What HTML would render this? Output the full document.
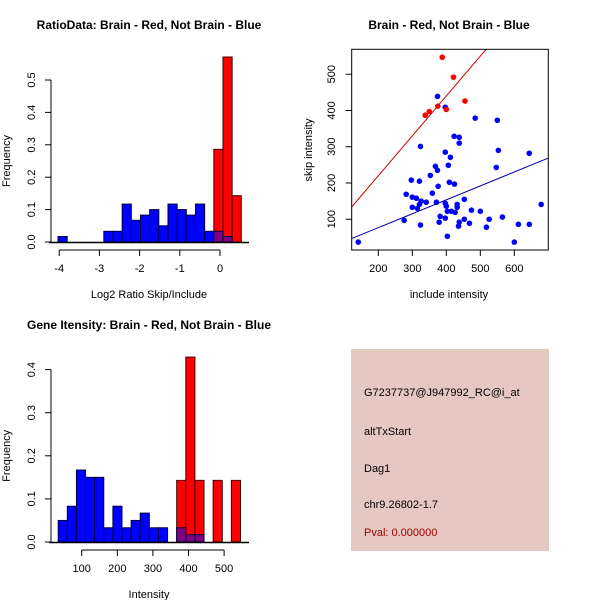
<!DOCTYPE html>
<html><head><meta charset="utf-8"><style>
html,body{margin:0;padding:0;background:#fff}
svg{display:block;font-family:"Liberation Sans",sans-serif}
</style></head><body>
<svg id="s" width="600" height="600" viewBox="0 0 600 600" xmlns="http://www.w3.org/2000/svg">
<rect x="0" y="0" width="600" height="600" fill="#fff"/>
<g>
<rect x="351" y="349" width="198" height="202" fill="#E5C8C2"/>
<text x="364" y="396" font-size="11">G7237737@J947992_RC@i_at</text>
<text x="364" y="435" font-size="11">altTxStart</text>
<text x="364" y="472" font-size="11">Dag1</text>
<text x="364" y="508" font-size="11">chr9.26802-1.7</text>
<text x="364" y="536" font-size="11" fill="#A00000">Pval: 0.000000</text>
</g>
</svg>
<script>
// Panel 1 data
const ratioBinStart=-4.03, ratioBinWidth=0.228;
const ratioBlue=[0.017,0,0,0,0,0.033,0.033,0.117,0.067,0.083,0.1,0.05,0.117,0.1,0.083,0.117,0.033,0.033,0.017,0];
const ratioRed=[0,0,0,0,0,0,0,0,0,0,0,0,0,0,0,0,0,0.286,0.571,0.143];
const ratioXTicks=[-4,-3,-2,-1,0];
const ratioYTicks=[0,0.1,0.2,0.3,0.4,0.5];
// Panel 3 data
const intBinStart=34, intBinWidth=25.6;
const intBlue=[0.05,0.083,0.167,0.15,0.15,0.033,0.083,0.033,0.05,0.067,0.033,0.033,0,0.033,0.017,0.017,0,0,0,0];
const intRed=[0,0,0,0,0,0,0,0,0,0,0,0,0,0.143,0.429,0.143,0,0.143,0,0.143];
const intXTicks=[100,200,300,400,500];
const intYTicks=[0,0.1,0.2,0.3,0.4];
// Panel 2 data
const redX=[388,421,455,375,350,338,400];
const redY=[547,492,426,412,397,387,403];
const blueX=[141,374,397,485,550,423,438,438,324,553,644,397,412,368,374,406,547,353,297,321,409,424,376,359,282,300,312,453,326,341,371,397,432,321,400,300,315,432,403,415,426,474,500,382,276,397,453,526,565,438,379,324,436,468,518,612,644,403,600,679];
const blueY=[37,439,409,379,373,329,326,310,301,290,282,285,271,246,235,249,243,221,208,205,202,197,191,172,169,161,158,155,150,147,147,144,141,141,136,133,130,133,122,122,119,125,122,108,97,103,100,100,106,92,92,84,81,89,78,86,86,53,37,141];
const redSlope=1.1, blueSlope=0.384;
const scXTicks=[200,300,400,500,600];
const scYTicks=[100,200,300,400,500];

const svg=document.getElementById('s');
const NS='http://www.w3.org/2000/svg';
function mk(tag,attrs,parent){const e=document.createElementNS(NS,tag);for(const k in attrs)e.setAttribute(k,attrs[k]);(parent||svg).appendChild(e);return e;}
function txt(x,y,s,size,parent,extra){const t=mk('text',Object.assign({x:x,y:y,'font-size':size,'text-anchor':'middle'},extra||{}),parent);t.textContent=s;return t;}

function hist(cfg){
  const g=mk('g',{});
  
  
  const X=v=>cfg.x0px+(v-cfg.x0)*cfg.xs, Y=v=>cfg.y0px-v*cfg.ys;
  const t=txt(cfg.titleX,cfg.titleY,cfg.title,12,g,{'font-weight':'bold'});
  
  cfg.red.forEach((v,i)=>{ if(v<=0)return;
    const a=cfg.bs+i*cfg.bw,b=a+cfg.bw;
    const r=mk('rect',{x:X(a),y:Y(v),width:X(b)-X(a),height:Y(0)-Y(v),fill:'#FF0000',stroke:'#400000','stroke-width':1},g);
    });
  cfg.blue.forEach((v,i)=>{ if(v<=0)return;
    const a=cfg.bs+i*cfg.bw,b=a+cfg.bw;
    const r=mk('rect',{x:X(a),y:Y(v),width:X(b)-X(a),height:Y(0)-Y(v),fill:cfg.red[i]>0?'#7F0080':'#0000FF',stroke:'#000040','stroke-width':1},g);
    });
  mk('line',{x1:X(cfg.bs)-9,x2:249,y1:Y(0)+0.5,y2:Y(0)+0.5,stroke:'#000','stroke-width':1.5},g);
  const ya=mk('g',{},g);
  const yt=cfg.yticks;
  mk('line',{x1:51,x2:51,y1:Y(yt[0]),y2:Y(yt[yt.length-1]),stroke:'#000'},ya);
  yt.forEach(v=>{mk('line',{x1:45,x2:51,y1:Y(v),y2:Y(v),stroke:'#000'},ya);
    txt(0,0,v.toFixed(1),11,ya,{transform:`translate(${35},${Y(v)}) rotate(-90)`});});
  const xa=mk('g',{},g);
  const xt=cfg.xticks, ay=cfg.y0px+8;
  mk('line',{x1:X(xt[0]),x2:X(xt[xt.length-1]),y1:ay,y2:ay,stroke:'#000'},xa);
  xt.forEach(v=>{mk('line',{x1:X(v),x2:X(v),y1:ay,y2:ay+6,stroke:'#000'},xa);
    txt(X(v),ay+22,String(v),11,xa);});
  const xl=txt(149,cfg.xlabY,cfg.xlab,11,g);
  const yl=txt(0,0,'Frequency',11,g,{transform:`translate(10,${(Y(0)+Y(yt[yt.length-1]))/2}) rotate(-90)`});
  
}
hist({name:'ratio-histogram',title:'RatioData: Brain - Red, Not Brain - Blue',titleX:149,titleY:29,
  x0:0,x0px:220,xs:40.2,y0px:242,ys:324,bs:ratioBinStart,bw:ratioBinWidth,blue:ratioBlue,red:ratioRed,
  xticks:ratioXTicks,yticks:ratioYTicks,xlab:'Log2 Ratio Skip/Include',xlabY:298});
hist({name:'intensity-histogram',title:'Gene Itensity: Brain - Red, Not Brain - Blue',titleX:149,titleY:329,
  x0:100,x0px:81.7,xs:0.356,y0px:542,ys:431,bs:intBinStart,bw:intBinWidth,blue:intBlue,red:intRed,
  xticks:intXTicks,yticks:intYTicks,xlab:'Intensity',xlabY:598});

(function(){
  const g=mk('g',{});
  
  
  const X=v=>310.3+v*0.34, Y=v=>255.5-v*0.3625;
  const L=351.7,R=548.3,T=49.3,B=250;
  const cp=mk('clipPath',{id:'cp'},g);mk('rect',{x:L,y:T,width:R-L,height:B-T},cp);
  const t=txt(449,29,'Brain - Red, Not Brain - Blue',12,g,{'font-weight':'bold'});
  
  const pts=mk('g',{'clip-path':'url(#cp)'},g);
  blueX.forEach((x,i)=>{const c=mk('circle',{cx:X(x),cy:Y(blueY[i]),r:2.8,fill:'#0000FF'},pts);
    });
  redX.forEach((x,i)=>{const c=mk('circle',{cx:X(x),cy:Y(redY[i]),r:2.8,fill:'#FF0000'},pts);
    });
  const xa0=(L-310.3)/0.34, xa1=(R-310.3)/0.34;
  const rl=mk('line',{x1:X(xa0),y1:Y(redSlope*xa0),x2:X(xa1),y2:Y(redSlope*xa1),stroke:'#CC0000','stroke-width':1},pts);
  
  const bl=mk('line',{x1:X(xa0),y1:Y(blueSlope*xa0),x2:X(xa1),y2:Y(blueSlope*xa1),stroke:'#0000AA','stroke-width':1},pts);
  
  mk('rect',{x:L,y:T,width:R-L,height:B-T,fill:'none',stroke:'#000'},g);
  const xa=mk('g',{},g);
  scXTicks.forEach(v=>{mk('line',{x1:X(v),x2:X(v),y1:B,y2:B+6,stroke:'#000'},xa);txt(X(v),B+22,String(v),11,xa);});
  const ya=mk('g',{},g);
  scYTicks.forEach(v=>{mk('line',{x1:L-6,x2:L,y1:Y(v),y2:Y(v),stroke:'#000'},ya);
    txt(0,0,String(v),11,ya,{transform:`translate(335,${Y(v)}) rotate(-90)`});});
  const xl=txt(449,298,'include intensity',11,g);
  const yl=txt(0,0,'skip intensity',11,g,{transform:`translate(312,150) rotate(-90)`});
  
})();
</script>
</body></html>
